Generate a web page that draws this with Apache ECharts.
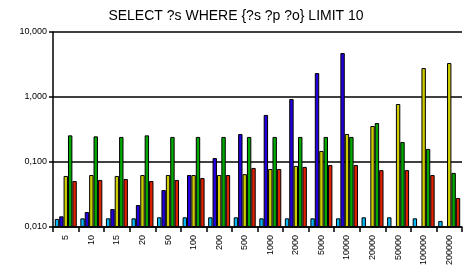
<!DOCTYPE html>
<html><head><meta charset="utf-8">
<script src="https://cdn.jsdelivr.net/npm/echarts@6/dist/echarts.min.js"></script>
<style>html,body{margin:0;padding:0;background:#fff}#c{width:472px;height:275px}</style>
</head><body><div id="c"></div>
<script>
const categories = ['5','10','15','20','50','100','200','500','1000','2000','5000','10000','20000','50000','100000','200000'];
const seriesCyan   = [0.0133,0.0136,0.0136,0.0136,0.0141,0.0141,0.0141,0.0141,0.0136,0.0136,0.0136,0.0136,0.0141,0.0141,0.0136,0.0124];
const seriesBlue   = [0.0146,0.017,0.0189,0.0218,0.037,0.063,0.115,0.27,0.53,0.93,2.34,4.75,null,null,null,null];
const seriesYellow = [0.061,0.063,0.061,0.063,0.063,0.063,0.063,0.065,0.078,0.087,0.148,0.27,0.358,0.78,2.79,3.33];
const seriesGreen  = [0.257,0.248,0.243,0.257,0.243,0.243,0.243,0.243,0.243,0.243,0.243,0.243,0.398,0.203,0.159,0.068];
const seriesRed    = [0.051,0.053,0.0547,0.051,0.053,0.0567,0.063,0.081,0.078,0.084,0.09,0.09,0.075,0.075,0.063,0.028];
const yTicks = [0.01, 0.1, 1, 10];

const colors = ['#00B8F8','#2200DD','#CCCC00','#00A800','#DD2200'];
const all = [seriesCyan, seriesBlue, seriesYellow, seriesGreen, seriesRed];
// log scale: decades counted from the axis floor (0,010) so bars rise from the bottom
const floorLog = Math.log10(yTicks[0]);
const lg = v => v == null ? null : Math.log10(v) - floorLog;
const chart = echarts.init(document.getElementById('c'), null, {renderer:'canvas'});
chart.setOption({
  animation:false,
  title:{text:'SELECT ?s WHERE {?s ?p ?o} LIMIT 10', left:'center', top:4,
    textStyle:{fontFamily:'Liberation Sans', fontSize:14, fontWeight:'normal', color:'#000'}},
  grid:{left:53, top:32, right:10, bottom:48},
  xAxis:{type:'category', data:categories,
    axisLine:{onZero:false, lineStyle:{color:'#000', width:1.5}},
    axisTick:{show:true, length:5, lineStyle:{color:'#000', width:1.5}},
    axisLabel:{rotate:90, fontFamily:'Liberation Sans', fontSize:9, color:'#000', margin:8}},
  yAxis:{type:'value', min:lg(yTicks[0]), max:lg(yTicks[yTicks.length-1]), interval:1,
    axisLine:{show:true, lineStyle:{color:'#000', width:1.5}},
    axisTick:{show:true, length:4, lineStyle:{color:'#000', width:1.5}},
    splitLine:{show:true, lineStyle:{color:'#000', width:1.5}},
    axisLabel:{fontFamily:'Liberation Sans', fontSize:9, color:'#000', margin:6,
      formatter:v=>Math.pow(10, v + floorLog).toFixed(3).replace('.', ',')}},
  series: all.map((d,i)=>({type:'bar', data:d.map(lg), barGap:'0%', barCategoryGap:'14%',
    itemStyle:{color:colors[i], borderColor:'#000', borderWidth:1}}))
});
</script></body></html>
